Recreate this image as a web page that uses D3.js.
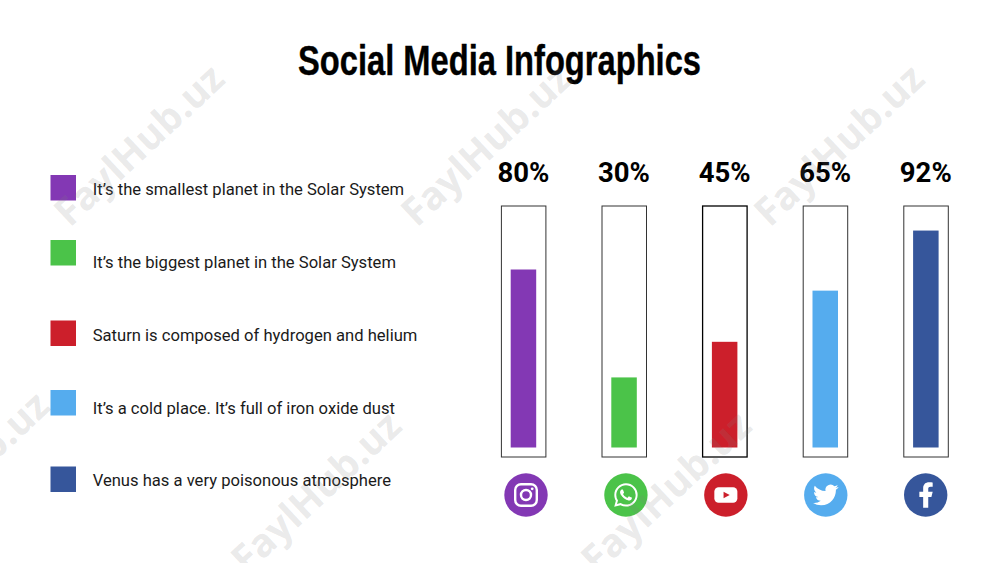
<!DOCTYPE html>
<html>
<head>
<meta charset="utf-8">
<script src="https://cdn.jsdelivr.net/npm/d3@7"></script>
<style>
  html, body { margin: 0; background: #fff; }
  svg { display: block; }
</style>
</head>
<body>
<svg id="chart" width="1000" height="563"></svg>
<script>
const networks = ["Instagram", "WhatsApp", "YouTube", "Twitter", "Facebook"];
const percentLabels = ["80%", "30%", "45%", "65%", "92%"];
// bar heights as drawn in the picture, they don't quite follow the labels
const barValues = [80, 31.5, 47.5, 70.5, 97.5];
const colors = ["#8338b4", "#4bc349", "#cc1f2b", "#55acee", "#36569b"];
const legendTexts = [
  "It’s the smallest planet in the Solar System",
  "It’s the biggest planet in the Solar System",
  "Saturn is composed of hydrogen and helium",
  "It’s a cold place. It’s full of iron oxide dust",
  "Venus has a very poisonous atmosphere",
];

const svg = d3.select("#chart");

const x = d3.scalePoint().domain(networks).range([523.4, 925.8]);
const xIcon = d3.scalePoint().domain(networks).range([526, 925.7]);
const y = d3.scaleLinear().domain([0, 100]).range([447.5, 225]);
const legendTops = [175, 240, 320.5, 390, 466.5];
const legendBaselines = [195, 267.5, 341, 414, 486];

const roboto = "Roboto, sans-serif";

svg.append("text")
  .attr("x", 499.5)
  .attr("y", 75)
  .attr("text-anchor", "middle")
  .attr("font-family", "'Liberation Sans Narrow', sans-serif")
  .attr("font-weight", 700)
  .attr("font-size", 43)
  .attr("textLength", 403)
  .attr("lengthAdjust", "spacingAndGlyphs")
  .attr("stroke", "#000")
  .attr("stroke-width", 0.4)
  .text("Social Media Infographics");

// legend
const legend = svg.selectAll("g.legend").data(legendTexts).join("g").attr("class", "legend");
legend.append("rect")
  .attr("x", 50.5)
  .attr("y", (d, i) => legendTops[i])
  .attr("width", 25.5)
  .attr("height", 25.5)
  .attr("fill", (d, i) => colors[i]);
legend.append("text")
  .attr("x", 92.7)
  .attr("y", (d, i) => legendBaselines[i])
  .attr("font-family", roboto)
  .attr("font-size", 16.6)
  .attr("fill", "#1a1a1a")
  .text((d) => d);

// frames and bars
const columns = svg.selectAll("g.column").data(networks).join("g").attr("class", "column");
columns.append("text")
  .attr("x", (d) => x(d))
  .attr("y", 182)
  .attr("text-anchor", "middle")
  .attr("font-family", roboto)
  .attr("font-weight", 700)
  .attr("font-size", 27.5)
  .attr("fill", "#000")
  .text((d, i) => percentLabels[i]);
columns.append("rect")
  .attr("x", (d) => x(d) - 22)
  .attr("y", 206)
  .attr("width", 44.5)
  .attr("height", 251)
  .attr("fill", "none")
  .attr("stroke", (d, i) => (i === 2 ? "#000" : "#333"))
  .attr("stroke-width", (d, i) => (i === 2 ? 1.3 : 1));
columns.append("rect")
  .attr("x", (d) => x(d) - 12.7)
  .attr("y", (d, i) => y(barValues[i]))
  .attr("width", 25.5)
  .attr("height", (d, i) => y(0) - y(barValues[i]))
  .attr("fill", (d, i) => colors[i]);

// icons, white glyphs are in a 24 unit box centred on the circle
const icons = columns.append("g")
  .attr("transform", (d) => `translate(${xIcon(d)},495)`);
icons.append("circle")
  .attr("r", 21.7)
  .attr("fill", (d, i) => colors[i]);

const glyph = (name, scale) =>
  icons.filter((d) => d === name).append("g")
    .attr("transform", `scale(${scale}) translate(-12,-12)`)
    .attr("fill", "#fff");

const insta = glyph("Instagram", 1);
insta.append("rect")
  .attr("x", 1.2).attr("y", 1.2).attr("width", 21.6).attr("height", 21.6).attr("rx", 5.8)
  .attr("fill", "none").attr("stroke", "#fff").attr("stroke-width", 2.4);
insta.append("circle")
  .attr("cx", 12).attr("cy", 12).attr("r", 5)
  .attr("fill", "none").attr("stroke", "#fff").attr("stroke-width", 2.4);
insta.append("circle").attr("cx", 18.2).attr("cy", 5.8).attr("r", 1.4);

glyph("WhatsApp", 0.98).append("path")
  .attr("d", "M17.472 14.382c-.297-.149-1.758-.867-2.03-.967-.273-.099-.471-.148-.67.15-.197.297-.767.966-.94 1.164-.173.199-.347.223-.644.075-.297-.15-1.255-.463-2.39-1.475-.883-.788-1.48-1.761-1.653-2.059-.173-.297-.018-.458.13-.606.134-.133.298-.347.446-.52.149-.174.198-.298.298-.497.099-.198.05-.371-.025-.52-.075-.149-.669-1.612-.916-2.207-.242-.579-.487-.5-.669-.51-.173-.008-.371-.01-.57-.01-.198 0-.52.074-.792.372-.272.297-1.04 1.016-1.04 2.479 0 1.462 1.065 2.875 1.213 3.074.149.198 2.096 3.2 5.077 4.487.709.306 1.262.489 1.694.625.712.227 1.36.195 1.871.118.571-.085 1.758-.719 2.006-1.413.248-.694.248-1.289.173-1.413-.074-.124-.272-.198-.57-.347m-5.421 7.403h-.004a9.87 9.87 0 01-5.031-1.378l-.361-.214-3.741.982.998-3.648-.235-.374a9.86 9.86 0 01-1.51-5.26c.001-5.45 4.436-9.884 9.888-9.884 2.64 0 5.122 1.03 6.988 2.898a9.825 9.825 0 012.893 6.994c-.003 5.45-4.437 9.884-9.885 9.884m8.413-18.297A11.815 11.815 0 0012.05 0C5.495 0 .16 5.335.157 11.892c0 2.096.547 4.142 1.588 5.945L.057 24l6.305-1.654a11.882 11.882 0 005.683 1.448h.005c6.554 0 11.89-5.335 11.893-11.893a11.821 11.821 0 00-3.48-8.413Z");

const yt = glyph("YouTube", 0.96);
yt.append("rect").attr("x", 0).attr("y", 4).attr("width", 24).attr("height", 16).attr("rx", 4.5);
yt.append("path").attr("d", "M9.6 8.6 L16 12 L9.6 15.4 Z").attr("fill", colors[2]);

glyph("Twitter", 1.06).append("path")
  .attr("d", "M23.953 4.57a10 10 0 01-2.825.775 4.958 4.958 0 002.163-2.723c-.951.555-2.005.959-3.127 1.184a4.92 4.92 0 00-8.384 4.482C7.69 8.095 4.067 6.13 1.64 3.162a4.822 4.822 0 00-.666 2.475c0 1.71.87 3.213 2.188 4.096a4.904 4.904 0 01-2.228-.616v.06a4.923 4.923 0 003.946 4.827 4.996 4.996 0 01-2.212.085 4.936 4.936 0 004.604 3.417 9.867 9.867 0 01-6.102 2.105c-.39 0-.779-.023-1.17-.067a13.995 13.995 0 007.557 2.209c9.053 0 13.998-7.496 13.998-13.985 0-.21 0-.42-.015-.63A9.935 9.935 0 0024 4.59z");

glyph("Facebook", 1.27).append("path")
  .attr("d", "M14 13.5h2.5l1-4H14v-2c0-1.03 0-2 2-2h1.5V2.14c-.326-.043-1.557-.14-2.857-.14C11.928 2 10 3.657 10 6.7v2.8H7v4h3V22h4v-8.5z");

// source watermark, sits over everything
const marks = [[139, 145], [486, 145], [839, 145], [-36, 472], [316, 492], [666, 492]];
svg.selectAll("text.mark").data(marks).join("text")
  .attr("class", "mark")
  .attr("transform", (d) => `translate(${d[0]},${d[1]}) rotate(-43)`)
  .attr("text-anchor", "middle")
  .attr("dy", "0.35em")
  .attr("font-family", "'Open Sans', sans-serif")
  .attr("font-weight", 700)
  .attr("font-size", 39)
  .attr("fill", "#808080")
  .attr("fill-opacity", 0.18)
  .text("FaylHub.uz");
</script>
</body>
</html>
